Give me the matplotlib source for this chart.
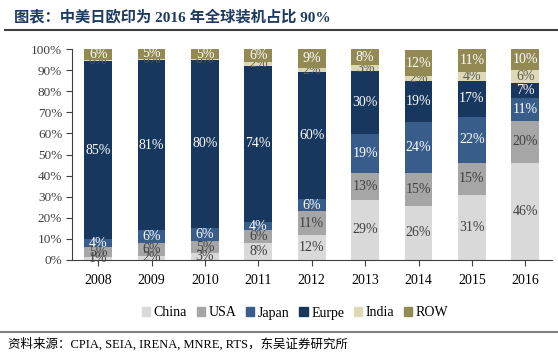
import numpy as np
import matplotlib.pyplot as plt
from matplotlib.lines import Line2D

plt.rcParams['font.family'] = ['Liberation Serif', 'Noto Sans CJK SC']

years = ['2008', '2009', '2010', '2011', '2012', '2013', '2014', '2015', '2016']
regions = ['China', 'USA', 'Japan', 'Eurpe', 'India', 'ROW']
china = [1.4, 2.0, 3.4, 8.0, 12.0, 28.6, 25.7, 31.0, 46.0]
usa = [4.6, 6.0, 5.4, 6.0, 11.0, 12.6, 15.4, 15.0, 20.0]
japan = [3.8, 6.0, 6.4, 4.0, 6.0, 18.6, 24.2, 22.0, 11.0]
europe = [84.6, 81.0, 79.6, 74.0, 60.0, 29.7, 19.4, 17.0, 7.0]
india = [0.3, 0.4, 0.4, 2.0, 2.0, 2.7, 2.4, 4.0, 6.0]
row = [5.6, 4.8, 4.8, 6.0, 9.0, 7.8, 12.4, 11.0, 10.0]

series = [china, usa, japan, europe, india, row]
colors = ['#d9d9d9', '#a6a6a6', '#385d8a', '#17375e', '#ddd9b4', '#938953']
text_colors = ['#404040', '#404040', 'white', 'white', '#595959', 'white']

fig = plt.figure(figsize=(5.58, 3.53), dpi=100)
ax = fig.add_axes([72 / 558, (353 - 260) / 353, 480 / 558, 211 / 353])

x = np.arange(len(years))
bottom = np.zeros(len(years))
for i, (vals, name) in enumerate(zip(series, regions)):
    vals = np.array(vals)
    z = 3 if name == 'ROW' else 2
    ax.bar(x, vals, 0.52, bottom=bottom, color=colors[i], label=name, zorder=z)
    # India labels sit under the ROW bar, as in the source chart
    tz = 2.5 if name == 'India' else 4
    for xi, b, v in zip(x, bottom, vals):
        ax.text(xi, b + v / 2, f'{round(v):.0f}%', ha='center', va='center',
                fontsize=10, color=text_colors[i], zorder=tz)
    bottom += vals

ax.set_xlim(-0.49, 8.5)
ax.set_ylim(0, 100)
ax.set_yticks(np.arange(0, 101, 10))
ax.set_yticklabels([f'{v}%' for v in range(0, 101, 10)], fontsize=9.5, color='#404040')
ax.set_xticks(x)
ax.set_xticklabels(years, fontsize=10)
ax.tick_params(axis='x', length=4, pad=6, color='#404040')
ax.tick_params(axis='y', length=4, pad=3, color='#404040')
for s in ['top', 'right']:
    ax.spines[s].set_visible(False)
for s in ['left', 'bottom']:
    ax.spines[s].set_color('#404040')

handles = [plt.Rectangle((0, 0), 1, 1, color=c) for c in colors]
fig.legend(handles, regions, loc='center', bbox_to_anchor=(295 / 558, 1 - 313 / 353),
           ncol=6, frameon=False, fontsize=10, handlelength=0.6, handleheight=0.6,
           handletextpad=0.25, columnspacing=0.7)

fig.text(14 / 558, 1 - 17 / 353, '图表：中美日欧印为 2016 年全球装机占比 90%',
         fontsize=11, fontweight='bold', color='#1f3a60', va='center', ha='left')
fig.add_artist(Line2D([5 / 558, 1], [1 - 30 / 353] * 2, color='#404040', lw=1.5))
fig.add_artist(Line2D([0, 1], [1 - 332 / 353] * 2, color='#808080', lw=1.5))
fig.text(8 / 558, 1 - 344 / 353, '资料来源：CPIA, SEIA, IRENA, MNRE, RTS，东吴证券研究所',
         fontsize=9, color='black', va='center', ha='left')

fig.savefig('out.png', dpi=100)
